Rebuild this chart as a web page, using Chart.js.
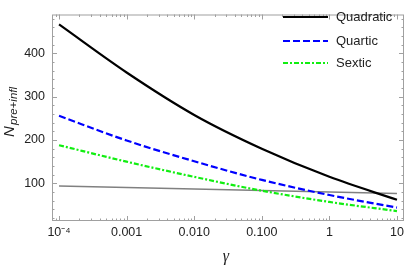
<!DOCTYPE html>
<html lang="en">
<head>
    <meta charset="UTF-8">
    <title>N pre+infl vs gamma</title>
    <style>
        body { margin: 0; background: #fff; }
        #wrap { width: 409px; height: 267px; }
    </style>
</head>
<body>
    <div id="wrap"><canvas id="myChart" width="409" height="267"></canvas></div>

    <script src="https://cdn.jsdelivr.net/npm/chart.js"></script>
    <script>
        // values
        const gammaVals = [1e-4, 1e-3, 1e-2, 1e-1, 1, 10];
        const quadratic = [467, 356, 258, 180, 115, 62];
        const quartic = [256, 199, 151, 108, 73, 44];
        const sextic = [188, 150, 115, 83, 57, 36];
        const flatLine = [94, 90.5, 87, 83.5, 80, 76.5];

        const seriesNames = ['Quadratic', 'Quartic', 'Sextic'];
        const xTickVals = [1e-4, 1e-3, 1e-2, 1e-1, 1, 10];
        const xTickLabels = ['10\u207B\u2074', '0.001', '0.010', '0.100', '1', '10'];
        const yTickVals = [100, 200, 300, 400];

        const FRAME = '#a0a0a0';
        const TXT = '#222';

        function pts(ys) {
            let out = [];
            for (let i = 0; i < gammaVals.length; i++) {
                out.push({ x: gammaVals[i], y: ys[i] });
            }
            return out;
        }

        // frame with inward major / minor ticks, legend and axis titles
        const framePlugin = {
            id: 'frame',
            afterDatasetsDraw(chart) {
                const c = chart.ctx;
                const a = chart.chartArea;
                const xs = chart.scales.x;
                const ys = chart.scales.y;
                c.save();
                c.strokeStyle = FRAME;
                c.lineWidth = 1;
                c.strokeRect(a.left + 0.5, a.top + 0.5, a.right - a.left - 1, a.bottom - a.top - 1);

                c.beginPath();
                // x ticks (log, minor at 2..9)
                for (let e = -5; e <= 1; e++) {
                    for (let m = 1; m <= 9; m++) {
                        let v = m * Math.pow(10, e);
                        let px = Math.round(xs.getPixelForValue(v)) + 0.5;
                        if (px < a.left + 1 || px > a.right - 1) continue;
                        let len = (m == 1) ? 5 : 2.5;
                        c.moveTo(px, a.bottom); c.lineTo(px, a.bottom - len);
                        c.moveTo(px, a.top); c.lineTo(px, a.top + len);
                    }
                }
                // y ticks, minor every 20
                for (let v = 20; v <= 480; v += 20) {
                    let py = Math.round(ys.getPixelForValue(v)) + 0.5;
                    if (py < a.top + 1 || py > a.bottom - 1) continue;
                    let len = (v % 100 == 0) ? 5 : 2.5;
                    c.moveTo(a.left, py); c.lineTo(a.left + len, py);
                    c.moveTo(a.right, py); c.lineTo(a.right - len, py);
                }
                c.stroke();

                // legend
                const ds = chart.data.datasets;
                c.font = '13px "Liberation Sans", Arial, sans-serif';
                c.textBaseline = 'middle';
                c.fillStyle = TXT;
                const legY = [17, 41, 63];
                for (let i = 0; i < seriesNames.length; i++) {
                    c.beginPath();
                    c.strokeStyle = ds[i].borderColor;
                    c.lineWidth = ds[i].borderWidth;
                    c.setLineDash(ds[i].borderDash || []);
                    c.moveTo(283, legY[i]);
                    c.lineTo(328, legY[i]);
                    c.stroke();
                    c.fillText(seriesNames[i], 336, legY[i]);
                }
                c.setLineDash([]);

                // x title
                c.font = 'italic 16px "Liberation Serif", "DejaVu Serif", serif';
                c.textAlign = 'center';
                c.fillText('\u03B3', 226, 257);

                // y title
                c.rotate(-Math.PI / 2);
                c.textAlign = 'left';
                c.textBaseline = 'alphabetic';
                c.font = 'italic 15px "Liberation Sans", Arial, sans-serif';
                c.fillText('N', -137, 14);
                c.font = 'italic 11.5px "Liberation Sans", Arial, sans-serif';
                c.fillText('pre+infl', -125, 17);
                c.restore();
            }
        };

        const ctx = document.querySelector('#myChart');
        new Chart(ctx, {
            type: 'line',
            data: {
                datasets: [{
                    label: seriesNames[0],
                    data: pts(quadratic),
                    borderColor: '#000000',
                    borderWidth: 2.2
                }, {
                    label: seriesNames[1],
                    data: pts(quartic),
                    borderColor: '#0000ff',
                    borderWidth: 2.2,
                    borderDash: [7, 3]
                }, {
                    label: seriesNames[2],
                    data: pts(sextic),
                    borderColor: '#11ee11',
                    borderWidth: 2.2,
                    borderDash: [5, 2, 2, 2]
                }, {
                    label: 'ref',
                    data: pts(flatLine),
                    borderColor: '#808080',
                    borderWidth: 1.6
                }]
            },
            options: {
                responsive: false,
                animation: false,
                devicePixelRatio: 1,
                layout: { padding: { left: 0, top: 4, right: 5, bottom: 0 } },
                elements: {
                    point: { radius: 0 },
                    line: { tension: 0.4, cubicInterpolationMode: 'monotone' }
                },
                plugins: {
                    legend: { display: false },
                    tooltip: { enabled: false }
                },
                scales: {
                    x: {
                        type: 'logarithmic',
                        min: Math.pow(10, -4.104),
                        max: Math.pow(10, 1.104),
                        border: { display: false },
                        grid: { display: false, drawTicks: false, tickLength: 0 },
                        afterBuildTicks: (s) => { s.ticks = xTickVals.map(v => ({ value: v })); },
                        afterFit: (s) => { s.height = 46; },
                        ticks: {
                            autoSkip: false,
                            maxRotation: 0,
                            padding: 4,
                            color: TXT,
                            font: { family: '"Liberation Sans", Arial, sans-serif', size: 12.5 },
                            callback: (v) => {
                                let k = xTickVals.findIndex(t => Math.abs(Math.log10(t) - Math.log10(v)) < 1e-6);
                                return k >= 0 ? xTickLabels[k] : '';
                            }
                        }
                    },
                    y: {
                        type: 'linear',
                        min: 13,
                        max: 490,
                        border: { display: false },
                        grid: { display: false, drawTicks: false, tickLength: 0 },
                        afterBuildTicks: (s) => { s.ticks = yTickVals.map(v => ({ value: v })); },
                        afterFit: (s) => { s.width = 52; },
                        ticks: {
                            padding: 7,
                            color: TXT,
                            font: { family: '"Liberation Sans", Arial, sans-serif', size: 12.5 }
                        }
                    }
                }
            },
            plugins: [framePlugin]
        });
    </script>
</body>
</html>
